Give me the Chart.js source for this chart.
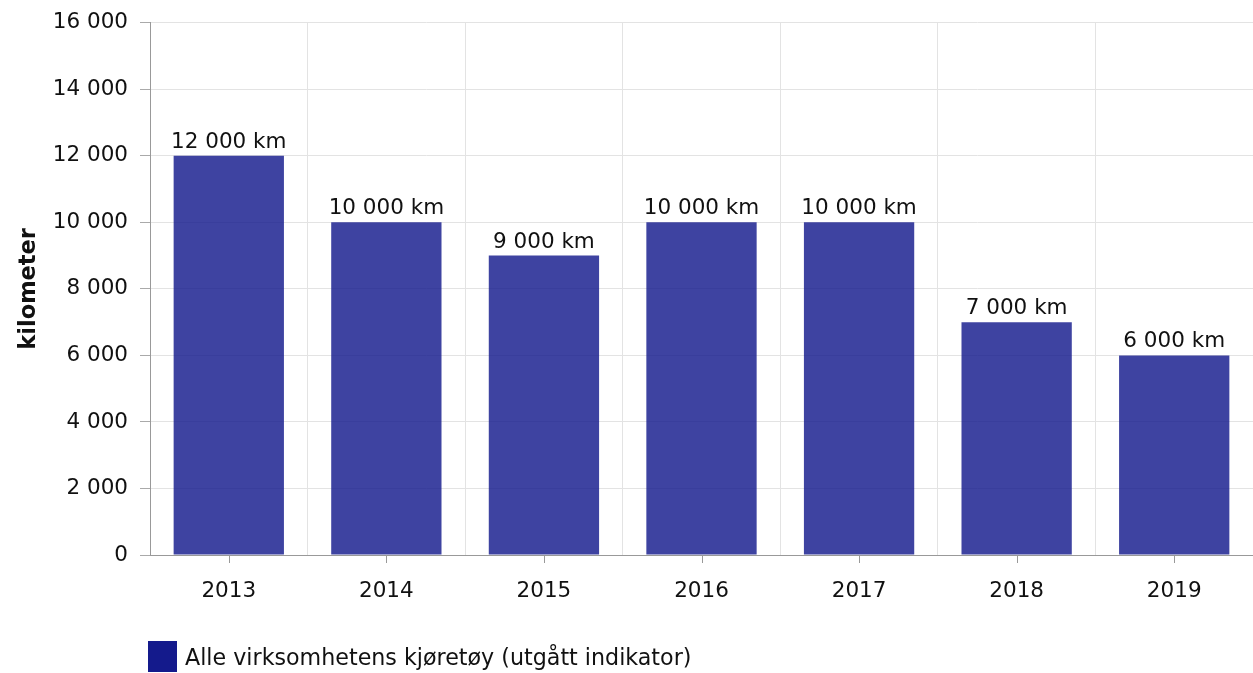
<!DOCTYPE html>
<html>
<head>
<meta charset="utf-8">
<script src="https://cdn.jsdelivr.net/npm/chart.js@4"></script>
<style>
  html, body { margin: 0; padding: 0; background: #fff; }
  #wrap { position: relative; width: 1253px; height: 673px; }
  #legend {
    position: absolute; left: 148px; top: 641px;
    display: flex; align-items: center;
    font-family: "DejaVu Sans", Verdana, sans-serif; font-size: 22.2px; color: #111;
  }
  #legend .box { width: 29px; height: 31px; background: #141a8c; margin-right: 8px; }
</style>
</head>
<body>
<div id="wrap">
  <canvas id="chart" width="1253" height="673"></canvas>
  <div id="legend"><span class="box"></span><span id="legendText"></span></div>
</div>
<script>
// Data
const years = ['2013', '2014', '2015', '2016', '2017', '2018', '2019'];
const kilometers = [12000, 10000, 9000, 10000, 10000, 7000, 6000];
const seriesName = 'Alle virksomhetens kjøretøy (utgått indikator)';
const yTicks = [0, 2000, 4000, 6000, 8000, 10000, 12000, 14000, 16000];

const FONT = '"DejaVu Sans", Verdana, sans-serif';
const FS = 21.5;

// Norwegian style thousands: "12 000"
function fmt(v) {
  return String(v).replace(/\B(?=(\d{3})+(?!\d))/g, ' ');
}

// Labels above bars
const barLabels = {
  id: 'barLabels',
  afterDatasetsDraw(chart) {
    const ctx = chart.ctx;
    const meta = chart.getDatasetMeta(0);
    ctx.save();
    ctx.font = FS + 'px ' + FONT;
    ctx.fillStyle = '#111';
    ctx.textAlign = 'center';
    ctx.textBaseline = 'alphabetic';
    meta.data.forEach((bar, i) => {
      ctx.fillText(fmt(kilometers[i]) + ' km', bar.x, bar.y - 8);
    });
    ctx.restore();
  }
};

// Tick marks under the x axis, at category centres
const xTickMarks = {
  id: 'xTickMarks',
  afterDraw(chart) {
    const ctx = chart.ctx;
    const xs = chart.scales.x;
    const bottom = chart.chartArea.bottom;
    ctx.save();
    ctx.strokeStyle = '#999';
    ctx.lineWidth = 1;
    xs.ticks.forEach((t, i) => {
      const x = Math.round(xs.getPixelForTick(i)) + 0.5;
      ctx.beginPath();
      ctx.moveTo(x, bottom);
      ctx.lineTo(x, bottom + 8);
      ctx.stroke();
    });
    ctx.restore();
  }
};

document.getElementById('legendText').textContent = seriesName;

new Chart(document.getElementById('chart'), {
  type: 'bar',
  data: {
    labels: years,
    datasets: [{
      label: seriesName,
      data: kilometers,
      backgroundColor: 'rgba(20, 26, 140, 0.82)',
      borderWidth: 0,
      barPercentage: 0.7,
      categoryPercentage: 1.0
    }]
  },
  options: {
    responsive: false,
    animation: false,
    layout: { padding: { top: 21, right: 0, bottom: 58, left: 0 } },
    plugins: {
      legend: { display: false },
      tooltip: { enabled: false }
    },
    scales: {
      x: {
        grid: { color: '#e3e3e3', drawTicks: false, offset: true },
        border: { color: '#999' },
        ticks: { color: '#111', font: { family: FONT, size: FS }, padding: 24 },
        afterFit(scale) { scale.height = 60; }
      },
      y: {
        min: 0,
        max: 16000,
        afterBuildTicks(scale) { scale.ticks = yTicks.map(v => ({ value: v })); },
        grid: { color: '#e3e3e3', tickColor: '#aaa', tickLength: 10 },
        border: { color: '#999' },
        ticks: {
          color: '#111',
          font: { family: FONT, size: FS, lineHeight: 1.0 },
          padding: 12,
          callback: v => fmt(v)
        },
        title: {
          display: true,
          text: 'kilometer',
          color: '#111',
          font: { family: FONT, size: 22.5, weight: 'bold' },
          padding: { top: 16, bottom: 0 }
        },
        afterFit(scale) { scale.width = 150; }
      }
    }
  },
  plugins: [barLabels, xTickMarks]
});
</script>
</body>
</html>
